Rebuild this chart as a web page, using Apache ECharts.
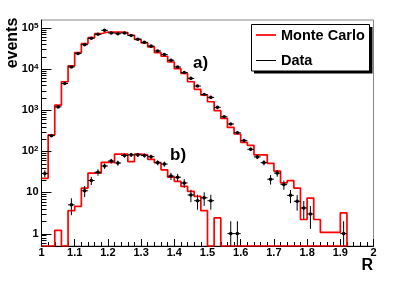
<!DOCTYPE html>
<html><head><meta charset="utf-8">
<script src="https://cdn.jsdelivr.net/npm/echarts@6/dist/echarts.min.js"></script>
<style>html,body{margin:0;padding:0;background:#fff}#c{width:415px;height:282px}</style>
</head><body><div id="c"></div>
<script>
// ---- data (bins of width 0.02 starting at R = 1.00) ----
const binStart = 1.0;
const binWidth = 0.02;
// Monte Carlo, selection a)
const mcA = [22, 250, 1330, 4900, 11900, 25000, 41400, 57700, 72000, 79000, 79000, 79000, 76500, 66000, 52700, 43000, 34300, 25000, 20400, 14800, 10200, 7800, 4900, 3200, 2330, 1600, 970, 630, 380, 263, 165, 140, 82, 82, 51, 33, 17, 19.3, 12.8, 2.2, 7.3, 2.2, 1.07, 1.07, 1.07, 3.2];
// Monte Carlo, selection b)
const mcB = [0, 0, 1.2, 0, 3.6, 4.6, 12.8, 29.5, 29.5, 54, 54, 85, 85, 56, 85, 82, 64, 53, 35.5, 23.5, 18.5, 14, 10.6, 8, 3.6, 0, 2.4, 0, 0, 0, 0, 0, 0, 0, 0, 0, 0, 0, 0, 0, 0, 0, 0, 0, 0, 0];
// Data, selection a) and its errors
const dataA = [29, 240, 1200, 4450, 11200, 23700, 39000, 56000, 69700, 87000, 75000, 72000, 75000, 65000, 52700, 44500, 36000, 27400, 22400, 16300, 11200, 8200, 5900, 3850, 2400, 2040, 1170, 690, 460, 283, 182, 112, 73, 53, 21, 29.5, 15.5, 8.5, 6.1, 4.2, 3.0, 0, 0, 0, 0, 1.0];
const errA = [5.5, 15, 35, 67, 106, 154, 197, 237, 264, 295, 274, 268, 274, 255, 230, 211, 190, 166, 150, 128, 106, 91, 77, 62, 49, 45, 34, 26, 21, 17, 13.5, 10.6, 8.5, 7.3, 5.5, 5.4, 3.9, 3.0, 2.5, 2.0, 1.7, 0, 0, 0, 0, 1.0];
// Data, selection b) and its errors
const dataB = [0, 0, 0, 0, 5.0, 0, 11, 19.5, 31, 44, 58, 52, 79, 82, 82, 79, 74, 53, 49, 25, 23.5, 17, 8.7, 6.3, 7.4, 6.3, 0, 0, 1, 1, 0, 0, 0, 0, 0, 0, 0, 0, 0, 0, 0, 0, 0, 0, 0, 0];
const errB = [0, 0, 0, 0, 2.2, 0, 3.3, 4.4, 5.6, 6.6, 7.6, 7.2, 8.9, 9.1, 9.1, 8.9, 8.6, 7.3, 7.0, 5.0, 4.8, 4.1, 2.9, 2.5, 2.7, 2.5, 0, 0, 1, 1, 0, 0, 0, 0, 0, 0, 0, 0, 0, 0, 0, 0, 0, 0, 0, 0];
// tick labels
const xTickLabels = ['1', '1.1', '1.2', '1.3', '1.4', '1.5', '1.6', '1.7', '1.8', '1.9', '2'];
const yTickExponents = [0, 1, 2, 3, 4, 5];
const yTickLabels = ['{m|1}', '{m|10}', '{b|10}{s|2}', '{b|10}{s|3}', '{b|10}{s|4}', '{b|10}{s|5}'];

const YMIN = 0.5, YMAX = 1.55e5;
const F = '"Liberation Sans", Arial, Helvetica, sans-serif';

function stepPoints(vals, startAtBase) {
  const pts = [];
  if (startAtBase) pts.push([binStart, YMIN]);
  vals.forEach((v, i) => {
    const lo = binStart + i * binWidth, hi = binStart + (i + 1) * binWidth;
    const y = v > 0 ? v : YMIN;
    pts.push([lo, y], [hi, y]);
  });
  pts.push([binStart + vals.length * binWidth, YMIN]);
  return pts;
}
function pointData(vals, errs) {
  const out = [];
  vals.forEach((v, i) => {
    if (v > 0) out.push([binStart + (i + 0.5) * binWidth, v, errs[i]]);
  });
  return out;
}
function renderPoint(params, api) {
  const x = api.value(0), v = api.value(1), e = api.value(2);
  const c = api.coord([x, v]);
  const l = api.coord([x - binWidth / 2, v]);
  const r = api.coord([x + binWidth / 2, v]);
  const t = api.coord([x, v + e]);
  const b = api.coord([x, Math.max(v - e, YMIN)]);
  return {
    type: 'group',
    children: [
      { type: 'line', shape: { x1: l[0], y1: c[1], x2: r[0], y2: c[1] }, style: { stroke: '#000', lineWidth: 1 } },
      { type: 'line', shape: { x1: c[0], y1: t[1], x2: c[0], y2: b[1] }, style: { stroke: '#000', lineWidth: 1 } },
      { type: 'circle', shape: { cx: c[0], cy: c[1], r: 1.8 }, style: { fill: '#000' } }
    ]
  };
}
// y-axis ticks (major at decades, minor at 2..9)
const yTicks = [];
for (let k = -1; k <= 5; k++) {
  for (let m = 1; m <= 9; m++) {
    const v = m * Math.pow(10, k);
    if (v > YMIN && v < YMAX) yTicks.push([binStart, v, m === 1 ? 10 : 5]);
  }
}
function renderTick(params, api) {
  const p = api.coord([api.value(0), api.value(1)]);
  const len = api.value(2);
  return { type: 'line', shape: { x1: p[0], y1: Math.round(p[1]) + 0.5, x2: p[0] + len, y2: Math.round(p[1]) + 0.5 }, style: { stroke: '#000', lineWidth: 1 } };
}

const chart = echarts.init(document.getElementById('c'), null, { renderer: 'canvas' });
chart.setOption({
  animation: false,
  backgroundColor: '#fff',
  grid: { left: 41.5, top: 20, width: 332, height: 226, show: true, borderColor: '#888', borderWidth: 1, backgroundColor: 'transparent' },
  xAxis: {
    type: 'value', min: 1, max: 2, interval: 0.1,
    axisLine: { show: true, lineStyle: { color: '#000', width: 1 } },
    axisTick: { show: true, inside: true, length: 7, lineStyle: { color: '#000' } },
    minorTick: { show: true, splitNumber: 5, length: 4, lineStyle: { color: '#000' } },
    splitLine: { show: false },
    axisLabel: {
      margin: 1, color: '#000', fontSize: 11, fontWeight: 'bold', fontFamily: F,
      formatter: v => xTickLabels[Math.round((v - 1) * 10)] ?? ''
    }
  },
  yAxis: {
    type: 'log', logBase: 10, min: YMIN, max: YMAX,
    axisLine: { show: true, lineStyle: { color: '#000', width: 1 } },
    axisTick: { show: false },
    splitLine: { show: false },
    axisLabel: {
      margin: 3, color: '#000',
      formatter: v => {
        const k = Math.log10(v), r = Math.round(k);
        if (Math.abs(k - r) > 1e-6) return '';
        const idx = yTickExponents.indexOf(r);
        return idx >= 0 ? yTickLabels[idx] : '';
      },
      rich: {
        m: { fontSize: 11, fontWeight: 'bold', fontFamily: F, color: '#000', lineHeight: 13 },
        b: { fontSize: 11, fontWeight: 'bold', fontFamily: F, color: '#000', lineHeight: 13 },
        s: { fontSize: 8, fontWeight: 'bold', fontFamily: F, color: '#000', lineHeight: 10, verticalAlign: 'top' }
      }
    }
  },
  series: [
    { type: 'line', data: stepPoints(mcA, false), symbol: 'none', lineStyle: { color: '#ff0000', width: 1.7 }, z: 2 },
    { type: 'line', data: stepPoints(mcB, true), symbol: 'none', lineStyle: { color: '#ff0000', width: 1.7 }, z: 2 },
    { type: 'custom', data: pointData(dataA, errA), renderItem: renderPoint, encode: { x: 0, y: 1 }, z: 3, clip: true },
    { type: 'custom', data: pointData(dataB, errB), renderItem: renderPoint, encode: { x: 0, y: 1 }, z: 3, clip: true },
    { type: 'custom', data: yTicks, renderItem: renderTick, encode: { x: 0, y: 1 }, z: 4, silent: true }
  ],
  graphic: [
    { type: 'text', x: 12.8, y: 43, rotation: Math.PI / 2, style: { text: 'events', font: 'bold 16px ' + F, fill: '#000', align: 'center', verticalAlign: 'middle' } },
    { type: 'text', x: 373, y: 266, style: { text: 'R', font: 'bold 16px ' + F, fill: '#000', align: 'right', verticalAlign: 'middle' } },
    { type: 'text', x: 193, y: 63, style: { text: 'a)', font: 'bold 17px ' + F, fill: '#000', align: 'left', verticalAlign: 'middle' } },
    { type: 'text', x: 170, y: 155.5, style: { text: 'b)', font: 'bold 17px ' + F, fill: '#000', align: 'left', verticalAlign: 'middle' } },
    { type: 'rect', shape: { x: 254, y: 27, width: 118.5, height: 46.5 }, style: { fill: '#000' }, z: 10 },
    { type: 'rect', shape: { x: 251.5, y: 24.5, width: 118, height: 46.5 }, style: { fill: '#fff', stroke: '#000', lineWidth: 1 }, z: 11 },
    { type: 'line', shape: { x1: 256, y1: 35, x2: 276, y2: 35 }, style: { stroke: '#ff0000', lineWidth: 1.7 }, z: 12 },
    { type: 'text', x: 281, y: 35.5, style: { text: 'Monte Carlo', font: 'bold 14.5px ' + F, fill: '#000', align: 'left', verticalAlign: 'middle' }, z: 12 },
    { type: 'line', shape: { x1: 256, y1: 60.5, x2: 276, y2: 60.5 }, style: { stroke: '#000', lineWidth: 1 }, z: 12 },
    { type: 'text', x: 281, y: 60.5, style: { text: 'Data', font: 'bold 14.5px ' + F, fill: '#000', align: 'left', verticalAlign: 'middle' }, z: 12 }
  ]
});
</script>
</body></html>
